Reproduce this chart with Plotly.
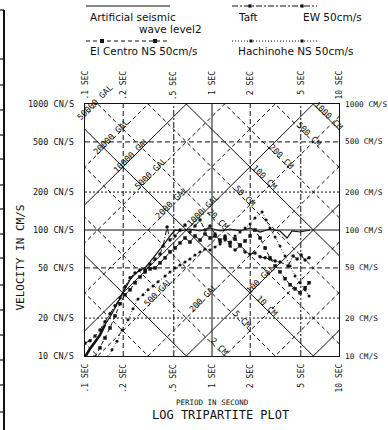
import numpy as np
import plotly.graph_objects as go

# ---------------- data (period in s, pseudo velocity in cm/s) ----------------
art_T = [0.100, 0.1095, 0.1199, 0.1313, 0.1437, 0.1574, 0.1723, 0.1887, 0.2066, 0.2262,
         0.2477, 0.2712, 0.297, 0.325, 0.356, 0.390, 0.427, 0.467, 0.512, 0.560,
         0.671, 0.805, 0.965, 1.157, 1.387, 1.663, 1.994, 2.39, 2.86, 3.43,
         3.90, 4.27, 4.94, 5.92]
art_V = [9.8, 11.4, 12.9, 14.7, 17.7, 20.4, 24.1, 28.9, 34.1, 40.2,
         44.8, 48.2, 50.0, 55.8, 62.3, 69.4, 78.9, 89.6, 100.0, 98.2,
         101.8, 98.2, 103.7, 98.2, 101.8, 98.2, 103.7, 96.4, 101.8, 98.2,
         86.4, 98.2, 96.4, 100.0]

taft_T = [0.100, 0.1095, 0.1199, 0.1313, 0.1437, 0.1574, 0.1723, 0.1887, 0.2066, 0.2262,
          0.2477, 0.2712, 0.297, 0.325, 0.356, 0.390, 0.412, 0.443, 0.467, 0.512,
          0.560, 0.613, 0.671, 0.735, 0.805, 0.881, 0.965, 1.057, 1.157, 1.267,
          1.387, 1.519, 1.663, 1.821, 1.994, 2.18, 2.39, 2.62, 2.86, 3.14,
          3.43, 3.97, 4.35, 4.68, 5.03, 5.41, 5.81]
taft_V = [12.7, 13.2, 14.4, 16.1, 18.7, 21.6, 25.0, 28.9, 35.4, 41.7,
          45.6, 48.2, 48.2, 53.8, 58.9, 64.5, 74.7, 105.6, 83.3, 89.6,
          100.0, 109.6, 96.4, 107.6, 120.0, 100.0, 107.6, 93.0, 80.3, 89.6,
          74.7, 69.4, 74.7, 66.9, 64.5, 65.7, 61.2, 60.1, 58.9, 56.8,
          55.8, 51.8, 62.3, 58.9, 63.4, 57.9, 60.1]

elc_T = [0.1199, 0.1313, 0.1437, 0.1574, 0.1723, 0.1887, 0.2066, 0.2262, 0.2477, 0.2712,
         0.297, 0.325, 0.356, 0.390, 0.427, 0.467, 0.512, 0.560, 0.613, 0.671,
         0.735, 0.805, 0.881, 0.965, 1.057, 1.157, 1.267, 1.387, 1.519, 1.663,
         1.821, 1.994, 2.18, 2.39, 2.62, 2.86, 3.14, 3.43, 3.76, 4.12,
         4.51, 4.94, 5.41, 5.81]
elc_V = [9.8, 11.6, 13.9, 16.7, 20.8, 26.0, 30.6, 33.5, 38.1, 42.4,
         46.5, 49.1, 50.0, 54.8, 60.1, 66.9, 72.0, 78.9, 86.4, 80.3,
         89.6, 83.3, 93.0, 86.4, 89.6, 83.3, 86.4, 78.9, 84.8, 76.1,
         81.8, 89.6, 100.0, 86.4, 72.0, 60.1, 51.8, 46.5, 41.0, 36.7,
         34.1, 31.7, 34.8, 38.1]

hach_T = [0.1517, 0.1632, 0.1786, 0.1956, 0.2181, 0.2388, 0.2614, 0.2862, 0.3134, 0.3430,
          0.3758, 0.427, 0.467, 0.512, 0.560, 0.613, 0.671, 0.735, 0.805,
          0.881, 0.965, 1.057, 1.157, 1.267, 1.387, 1.519, 1.663, 1.821, 1.994,
          2.18, 2.48, 2.67, 2.86, 3.14, 3.43, 3.76, 4.12, 4.51, 4.94,
          5.41, 5.81]
hach_V = [9.8, 11.2, 13.1, 16.1, 19.4, 23.7, 28.4, 30.6, 33.5, 36.0,
          38.8, 43.2, 46.5, 50.0, 52.8, 55.8, 58.9, 63.4, 66.9,
          70.7, 69.4, 73.4, 77.5, 83.3, 80.3, 89.6, 96.4, 103.7, 111.6,
          124.5, 138.7, 120.0, 103.7, 88.0, 74.7, 62.3, 51.8, 43.2, 38.1,
          33.5, 30.0]

period_ticks = [0.1, 0.2, 0.5, 1, 2, 5, 10]
period_labels = [".1 SEC", ".2 SEC", ".5 SEC", "1 SEC", "2 SEC", "5 SEC", "10 SEC"]
vel_ticks = [10, 20, 50, 100, 200, 500, 1000]
vel_labels_left = ["10 CN/S", "20 CN/S", "50 CN/S", "100 CN/S", "200 CN/S", "500 CN/S", "1000 CN/S"]
vel_labels_right = ["10 CM/S", "20 CM/S", "50 CM/S", "100 CM/S", "200 CM/S", "500 CM/S", "1000 CM/S"]

accel_lines = [10, 20, 50, 100, 200, 500, 1000, 2000, 5000, 10000, 20000, 50000]
disp_lines = [0.2, 0.5, 1, 2, 5, 10, 20, 50, 100, 200, 500, 1000]
accel_label_vals = [50000, 20000, 10000, 5000, 2000, 1000, 500, 200, 100]
accel_label_T = [0.125, 0.166, 0.239, 0.343, 0.494, 0.88, 0.39, 0.88, 2.49]
disp_label_vals = [1000, 500, 200, 100, 50, 20, 10, 5, 2]
disp_label_T = [8.05, 5.6, 3.43, 2.49, 1.75, 1.07, 2.62, 1.66, 1.09]

legend_names = ["Artificial seismic", "Taft", "El Centro NS 50cm/s", "Hachinohe NS 50cm/s"]

# ---------------- figure geometry helpers ----------------
W, H = 388, 430
L, R, T_, B = 85, 49, 104, 74
PW, PH = W - L - R, H - T_ - B


def px(xp):
    return (xp - L) / PW


def py(yp):
    return (H - B - yp) / PH


TWO_PI = 2 * np.pi
MONO = "DejaVu Sans Mono"
SANS = "DejaVu Sans"
INK = "#111111"

fig = go.Figure()

# period grid lines
for t in period_ticks[1:-1]:
    dash = "solid" if t == 1 else ("5px,3px" if t in (0.2, 2) else "6px,2px,2px,2px")
    fig.add_trace(go.Scatter(x=[t, t], y=[10, 1000], mode="lines",
                             line=dict(color=INK, width=1, dash=dash),
                             hoverinfo="skip", showlegend=False))
# velocity grid lines
for v in vel_ticks[1:-1]:
    dash = "solid" if v == 100 else ("5px,3px" if v in (50, 500) else "2px,2px")
    fig.add_trace(go.Scatter(x=[0.1, 10], y=[v, v], mode="lines",
                             line=dict(color=INK, width=1, dash=dash),
                             hoverinfo="skip", showlegend=False))

Tline = np.array([0.03, 30.0])


def is_decade(val):
    return abs(np.log10(val) - round(np.log10(val))) < 1e-9


# acceleration lines  V = A T / 2pi
for a in accel_lines:
    fig.add_trace(go.Scatter(x=Tline, y=a * Tline / TWO_PI, mode="lines",
                             line=dict(color=INK, width=1,
                                       dash="solid" if is_decade(a) else "4px,3px"),
                             hoverinfo="skip", showlegend=False))
# displacement lines  V = 2pi D / T
for d in disp_lines:
    fig.add_trace(go.Scatter(x=Tline, y=TWO_PI * d / Tline, mode="lines",
                             line=dict(color=INK, width=1,
                                       dash="solid" if is_decade(d) else "4px,3px"),
                             hoverinfo="skip", showlegend=False))

# ---------------- spectra ----------------
fig.add_trace(go.Scatter(x=art_T, y=art_V, mode="lines",
                         line=dict(color=INK, width=1.2), name=legend_names[0]))
fig.add_trace(go.Scatter(x=art_T[:5], y=art_V[:5], mode="lines",
                         line=dict(color=INK, width=2.6), showlegend=False))
fig.add_trace(go.Scatter(x=taft_T, y=taft_V, mode="lines+markers",
                         line=dict(color=INK, width=1, dash="5px,2px,1px,2px"),
                         marker=dict(symbol="circle", size=3.5, color=INK),
                         name=legend_names[1]))
fig.add_trace(go.Scatter(x=elc_T, y=elc_V, mode="lines+markers",
                         line=dict(color=INK, width=1, dash="4px,3px"),
                         marker=dict(symbol="square", size=3.5, color=INK),
                         name=legend_names[2]))
fig.add_trace(go.Scatter(x=hach_T, y=hach_V, mode="lines+markers",
                         line=dict(color="#333333", width=1, dash="1px,2px"),
                         marker=dict(symbol="circle", size=3, color=INK),
                         name=legend_names[3]))

annotations = []
# tick labels
for t, lab in zip(period_ticks, period_labels):
    for yy in (py(70), py(363)):
        annotations.append(dict(x=np.log10(t), y=yy, xref="x", yref="paper", text=lab,
                                showarrow=False, textangle=-90, xanchor="center",
                                yanchor="top", borderpad=0,
                                font=dict(family=MONO, size=8, color=INK)))
for v, ll, rl in zip(vel_ticks, vel_labels_left, vel_labels_right):
    annotations.append(dict(x=px(76), y=np.log10(v), xref="paper", yref="y", text=ll,
                            showarrow=False, xanchor="right", yanchor="middle",
                            font=dict(family=MONO, size=8.5, color=INK)))
    annotations.append(dict(x=px(343), y=np.log10(v), xref="paper", yref="y", text=rl,
                            showarrow=False, xanchor="left", yanchor="middle",
                            font=dict(family=MONO, size=7.8, color=INK)))
# diagonal line labels
for a, t in zip(accel_label_vals, accel_label_T):
    v = a * t / TWO_PI
    annotations.append(dict(x=np.log10(t), y=np.log10(v), xref="x", yref="y",
                            text=f"{a} GAL", showarrow=False, textangle=-45,
                            xshift=-2, yshift=2,
                            font=dict(family=MONO, size=8.5, color=INK)))
for d, t in zip(disp_label_vals, disp_label_T):
    v = TWO_PI * d / t
    annotations.append(dict(x=np.log10(t), y=np.log10(v), xref="x", yref="y",
                            text=f"{d} CM", showarrow=False, textangle=45,
                            xshift=2, yshift=2,
                            font=dict(family=MONO, size=8.5, color=INK)))
# axis titles
annotations.append(dict(x=px(11), y=py(258), xref="paper", yref="paper",
                        text="VELOCITY IN CM/S", showarrow=False, textangle=-90,
                        font=dict(family=MONO, size=11, color=INK)))
annotations.append(dict(x=px(212), y=py(407.5), xref="paper", yref="paper",
                        text="PERIOD IN SECOND", showarrow=False, borderpad=0,
                        font=dict(family=MONO, size=7.5, color=INK)))
annotations.append(dict(x=px(220), y=py(422.5), xref="paper", yref="paper",
                        text="LOG TRIPARTITE PLOT", showarrow=False, borderpad=0,
                        font=dict(family=MONO, size=12, color=INK)))

# legend texts
leg_font = dict(family=SANS, size=10.5, color=INK)
annotations += [
    dict(x=px(89), y=py(17), text="Artificial seismic", xanchor="left"),
    dict(x=px(203), y=py(29), text="wave level2", xanchor="right"),
    dict(x=px(237), y=py(17), text="Taft", xanchor="left"),
    dict(x=px(302), y=py(17), text="EW 50cm/s", xanchor="left"),
    dict(x=px(89), y=py(51), text="El Centro NS 50cm/s", xanchor="left"),
    dict(x=px(237), y=py(51), text="Hachinohe NS 50cm/s", xanchor="left"),
]
for a in annotations[-6:]:
    a.update(xref="paper", yref="paper", showarrow=False, yanchor="middle",
             borderpad=0, font=leg_font)

shapes = []
# legend lines
leg_lines = [(86, 170, 6, "solid"), (232, 317, 6, "6px,2px,2px,2px"),
             (86, 170, 41, "4px,3px"), (232, 317, 41, "1px,2px")]
for x0, x1, yy, dash in leg_lines:
    shapes.append(dict(type="line", xref="paper", yref="paper", x0=px(x0), x1=px(x1),
                       y0=py(yy), y1=py(yy), line=dict(color=INK, width=1, dash=dash)))
for xx, yy, sz in [(250, 6, 1.6), (302, 6, 1.6), (102, 41, 2), (155, 41, 2), (251, 41, 1.5), (302, 41, 1.5)]:
    shapes.append(dict(type="rect", xref="paper", yref="paper",
                       x0=px(xx - sz), x1=px(xx + sz), y0=py(yy + sz), y1=py(yy - sz),
                       fillcolor=INK, line=dict(width=0)))
# left frame
shapes.append(dict(type="line", xref="paper", yref="paper", x0=px(4), x1=px(4),
                   y0=py(10), y1=py(432), line=dict(color=INK, width=2)))
for yy in [10, 59, 85, 110, 135, 159, 185, 209, 234, 258, 285, 310, 335, 360, 385, 412]:
    shapes.append(dict(type="line", xref="paper", yref="paper", x0=px(-2), x1=px(4),
                       y0=py(yy), y1=py(yy), line=dict(color=INK, width=1.2)))

fig.update_layout(
    width=W, height=H, margin=dict(l=L, r=R, t=T_, b=B, pad=0),
    paper_bgcolor="white", plot_bgcolor="white", showlegend=False,
    xaxis=dict(type="log", range=[-1, 1], showgrid=False, zeroline=False,
               showticklabels=False, ticks="", showline=True, mirror=True,
               linecolor=INK, linewidth=1.3),
    yaxis=dict(type="log", range=[1, 3], showgrid=False, zeroline=False,
               showticklabels=False, ticks="", showline=True, mirror=True,
               linecolor=INK, linewidth=1.3),
    annotations=annotations, shapes=shapes,
)

fig.write_html("out.html")
